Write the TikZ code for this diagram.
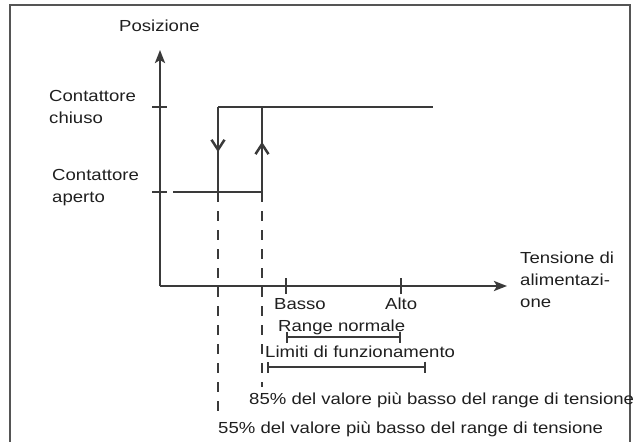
\documentclass[tikz,border=0pt]{standalone}
\usepackage{fontspec}
\setmainfont{Liberation Sans}
\usetikzlibrary{arrows.meta, decorations.markings}
\definecolor{mLine}{HTML}{3A3A3A}
\definecolor{mFrame}{HTML}{555555}

\begin{document}
\begin{tikzpicture}[x=1pt, y=-1pt,
    axis/.style={draw=mLine, line width=2.7pt},
    curve/.style={draw=mLine, line width=2.5pt},
    guide/.style={draw=mLine, line width=2.3pt, dash pattern=on 10pt off 9pt},
    span/.style={draw=mLine, line width=2.3pt, {Bar[width=11pt]}-{Bar[width=11pt]}},
    lbl/.style={inner sep=0pt, xscale=1.16, text=black!88, align=left,
      font=\fontsize{16}{22}\selectfont},
    midarrow/.style={postaction={decorate}, decoration={markings,
      mark=at position #1 with {\arrow{Straight Barb[length=10pt, width=13pt]}}}}]
    \useasboundingbox (0,0) rectangle (643,442);
    % frame
    \draw[mFrame, line width=1.4pt] (10,442) -- (10,5) -- (630,5) -- (630,442);

    % axes
    \coordinate (O) at (160,286);
    \coordinate (ytop) at (160,50);
    \coordinate (xend) at (507,286);
    \coordinate (yhi) at (160,107);
    \coordinate (ylo) at (160,192);
    \coordinate (xlow) at (286,286);
    \coordinate (xhigh) at (401,286);
    \draw[axis, -{Stealth[length=13pt, width=10pt, inset=3pt]}] (O) -- (ytop);
    \draw[axis, -{Stealth[length=13pt, width=10pt, inset=3pt]}] (O) -- (xend);
    \foreach \t in {yhi, ylo}
      \draw[axis] ([xshift=-8pt]\t) -- ([xshift=7pt]\t);
    \foreach \t in {xlow, xhigh}
      \draw[axis] ([yshift=-8pt]\t) -- ([yshift=8pt]\t);

    % hysteresis
    \coordinate (clStart) at (218,107);
    \coordinate (clEnd) at (433,107);
    \coordinate (cuTop) at (262,107);
    \coordinate (opStart) at (173,192);
    \coordinate (dnFoot) at (218,192);
    \coordinate (upFoot) at (262,192);
    \draw[curve] (clStart) -- (clEnd);
    \draw[curve] (opStart) -- (upFoot);
    \draw[curve, midarrow=0.53] (clStart) -- (dnFoot);
    \draw[curve, midarrow=0.59] (upFoot) -- (cuTop);

    % dashed guides
    \coordinate (dnEnd) at (218,416);
    \coordinate (upEnd) at (262,387);
    \draw[guide] (dnFoot) -- (dnEnd);
    \draw[guide] (upFoot) -- (upEnd);

    % ranges
    \coordinate (rnLeft) at (286,337);
    \coordinate (rnRight) at (401,337);
    \coordinate (lfLeft) at (267,367);
    \coordinate (lfRight) at (426,367);
    \draw[span] (rnLeft) -- (rnRight);
    \draw[span] (lfLeft) -- (lfRight);

    % labels
    \node[lbl, anchor=base west] (posLabel) at (119,31) {Posizione};
    \node[lbl, anchor=base west] (closedLabel) at (49,123) {Contattore\\chiuso};
    \node[lbl, anchor=base west] (openLabel) at (52,202) {Contattore\\aperto};
    \node[lbl, anchor=base west] (voltLabel) at (520,307) {Tensione di\\alimentazi-\\one};
    \node[lbl, anchor=base west] (lowLabel) at (274,309) {Basso};
    \node[lbl, anchor=base west] (highLabel) at (385,309) {Alto};
    \node[lbl, anchor=base west] (rnLabel) at (278,331) {Range normale};
    \node[lbl, anchor=base west] (lfLabel) at (265,357) {Limiti di funzionamento};
    \node[lbl, anchor=base west] (pct85) at (249,404) {85\% del valore più basso del range di tensione};
    \node[lbl, anchor=base west] (pct55) at (218,433) {55\% del valore più basso del range di tensione};
\end{tikzpicture}
\end{document}
